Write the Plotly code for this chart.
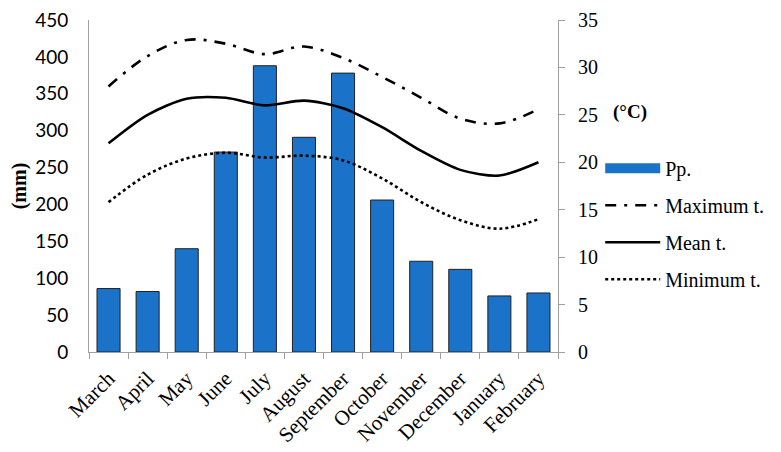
import plotly.graph_objects as go

months = ["March", "April", "May", "June", "July", "August", "September",
          "October", "November", "December", "January", "February"]
precip_mm = [86, 82, 140, 271, 388, 291, 378, 206, 123, 112, 76, 80]
max_t = [28.0, 31.2, 32.9, 32.5, 31.4, 32.2, 31.0, 29.0, 26.8, 24.6, 24.1, 25.6]
mean_t = [22.0, 25.0, 26.7, 26.8, 26.0, 26.5, 25.7, 23.7, 21.2, 19.2, 18.6, 20.0]
min_t = [15.8, 18.7, 20.4, 21.0, 20.5, 20.7, 20.2, 18.3, 15.8, 13.9, 13.0, 14.0]

serif = "Liberation Serif"
sans = "Lato"
bar_color = "#1A72C9"

fig = go.Figure()
fig.add_trace(go.Bar(x=months, y=precip_mm, name="Pp.", width=0.59, showlegend=False,
                     marker=dict(color=bar_color, line=dict(color="#222222", width=1))))
# legend entry for precipitation (wide swatch like the original)
fig.add_trace(go.Scatter(x=[None], y=[None], name="Pp.", mode="lines",
                         line=dict(color=bar_color, width=11), legendgroup="a"))
fig.add_trace(go.Scatter(x=months, y=max_t, name="Maximum t.", mode="lines", yaxis="y2",
                         line=dict(color="black", width=2.6, dash="11px,8px,3px,8px",
                                   shape="spline", smoothing=1.0),
                         legendgroup="b"))
fig.add_trace(go.Scatter(x=months, y=mean_t, name="Mean t.", mode="lines", yaxis="y2",
                         line=dict(color="black", width=2.6, shape="spline", smoothing=0.8),
                         legendgroup="c"))
fig.add_trace(go.Scatter(x=months, y=min_t, name="Minimum t.", mode="lines", yaxis="y2",
                         line=dict(color="black", width=2.6, dash="dot",
                                   shape="spline", smoothing=1.0),
                         legendgroup="d"))

fig.update_layout(
    width=773, height=444,
    margin=dict(l=81, r=220, t=12, b=100),
    paper_bgcolor="white", plot_bgcolor="white",
    xaxis=dict(type="category", tickangle=-45, tickson="boundaries", ticks="outside",
               ticklen=6, tickcolor="#A0A0A0", showline=True, linecolor="#A0A0A0",
               linewidth=1, showgrid=False, automargin=False, ticklabelstandoff=5,
               tickfont=dict(family=serif, size=21, color="black")),
    yaxis=dict(range=[0, 450], dtick=50, showgrid=False, zeroline=False,
               showline=True, linecolor="#A0A0A0", linewidth=1, ticks="",
               ticklabelstandoff=16, automargin=False, ticklabeloverflow="allow",
               tickfont=dict(family=sans, size=19, color="black"),
               title=dict(text="<b>(mm)</b>", font=dict(family=serif, size=20, color="black"),
                          standoff=8)),
    yaxis2=dict(range=[0, 35], dtick=5, overlaying="y", side="right", showgrid=False,
                zeroline=False, showline=True, linecolor="#A0A0A0", linewidth=1,
                ticks="outside", ticklen=6, tickcolor="#A0A0A0", ticklabelstandoff=9,
                automargin=False, ticklabeloverflow="allow",
                tickfont=dict(family=serif, size=20, color="black")),
    legend=dict(x=1.09, y=0.612, xanchor="left", yanchor="top",
                font=dict(family=serif, size=20, color="black"),
                traceorder="grouped", tracegroupgap=8, itemwidth=55,
                bgcolor="rgba(0,0,0,0)"),
    annotations=[dict(text="<b>(°C)</b>", xref="paper", yref="paper", x=1.114, y=0.722,
                      xanchor="left", yanchor="middle", showarrow=False,
                      font=dict(family=serif, size=19, color="black"))],
)

fig.write_html("out.html")
